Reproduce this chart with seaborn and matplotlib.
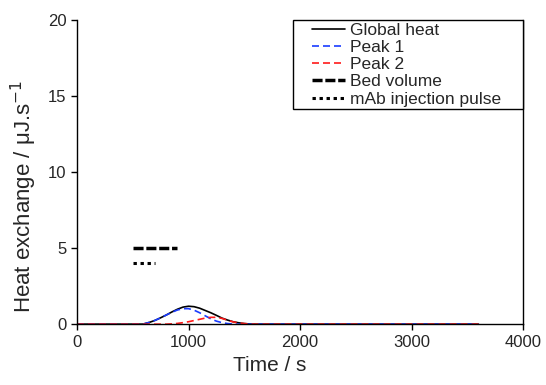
import matplotlib
matplotlib.use("Agg")
import matplotlib.pyplot as plt
from matplotlib.legend_handler import HandlerLine2D
import seaborn as sns
import pandas as pd

time_s = [0, 500, 590, 650, 700, 750, 800, 850, 900, 950, 1000, 1050, 1100, 1150,
          1200, 1250, 1300, 1350, 1400, 1450, 1500, 1550, 1600, 2000, 3600]
global_heat = [0, 0, 0, 0.12, 0.25, 0.42, 0.6, 0.8, 0.98, 1.12, 1.18, 1.15, 1.05, 0.9,
               0.75, 0.58, 0.4, 0.27, 0.16, 0.09, 0.04, 0.01, 0, 0, 0]
peak1 = [0, 0, 0, 0.12, 0.25, 0.42, 0.6, 0.78, 0.93, 1.02, 1.02, 0.92, 0.75, 0.55,
         0.35, 0.2, 0.1, 0.04, 0.01, 0, 0, 0, 0, 0, 0]
peak2 = [0, 0, 0, 0, 0, 0, 0, 0.02, 0.05, 0.1, 0.16, 0.24, 0.32, 0.4,
         0.45, 0.45, 0.38, 0.26, 0.15, 0.08, 0.04, 0.01, 0, 0, 0]
bed_x = [500, 900]
bed_y = [5, 5]
pulse_x = [500, 700]
pulse_y = [4, 4]

sns.set_style("ticks")
plt.rcParams['font.family'] = ['Liberation Sans', 'DejaVu Sans']

fig = plt.figure(figsize=(5.46, 3.85), dpi=100)
ax = fig.add_axes([0.141, 0.158, 0.817, 0.790])

df = pd.DataFrame({"t": time_s, "g": global_heat, "p1": peak1, "p2": peak2})
sns.lineplot(data=df, x="t", y="g", ax=ax, color="black", lw=1.2, label="Global heat")
sns.lineplot(data=df, x="t", y="p1", ax=ax, color="#1a3cff", lw=1.2,
             label="Peak 1").lines[-1].set_dashes([4.2, 2.4])
sns.lineplot(data=df, x="t", y="p2", ax=ax, color="#ff1a1a", lw=1.2,
             label="Peak 2").lines[-1].set_dashes([4.2, 2.4])
sns.lineplot(x=bed_x, y=bed_y, ax=ax, color="black", lw=2.5,
             label="Bed volume").lines[-1].set_dashes([2.9, 0.8])
sns.lineplot(x=pulse_x, y=pulse_y, ax=ax, color="black", lw=2.2,
             label="mAb injection pulse").lines[-1].set_dashes([1.1, 1.2])

ax.set_xlim(0, 4000)
ax.set_ylim(0, 20)
ax.set_xticks([0, 1000, 2000, 3000, 4000])
ax.set_yticks([0, 5, 10, 15, 20])
ax.tick_params(labelsize=12, length=4, width=1, color="black")
ax.set_xlabel("Time / s", fontsize=15)
ax.set_ylabel("Heat exchange / μJ.s$^{-1}$", fontsize=16)
ax.xaxis.set_label_coords(0.433, -0.105)
ax.yaxis.set_label_coords(-0.085, 0.42)
for s in ["left", "bottom", "right"]:
    ax.spines[s].set_color("black")
    ax.spines[s].set_linewidth(1)
ax.spines["top"].set_visible(False)

handles, labels = ax.get_legend_handles_labels()
leg = ax.legend(handles, labels, loc="upper left", bbox_to_anchor=(0.484, 0.0, 0.516, 1.0),
                mode="expand", borderaxespad=0, fontsize=12.5,
                handlelength=2.85, handletextpad=0.29, labelspacing=0.12,
                fancybox=False, framealpha=1, borderpad=0.15,
                handler_map={h: HandlerLine2D(xpad=0.95) for h in handles})
leg.get_frame().set_edgecolor("black")
leg.get_frame().set_linewidth(1)

fig.savefig("out.png", dpi=100)
